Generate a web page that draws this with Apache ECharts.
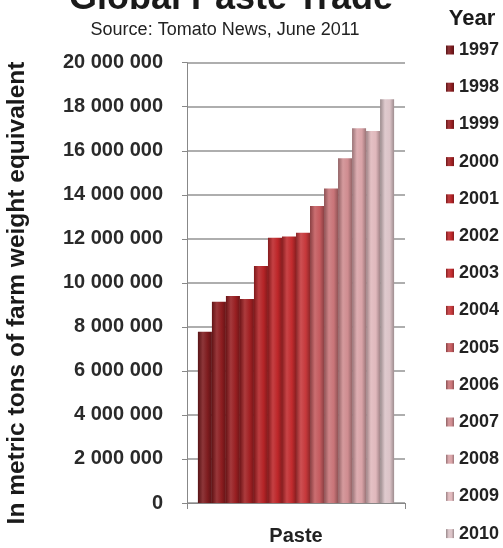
<!DOCTYPE html>
<html>
<head>
<meta charset="utf-8">
<title>Global Paste Trade</title>
<script src="https://cdn.jsdelivr.net/npm/echarts@6/dist/echarts.min.js"></script>
<style>
    html, body { margin: 0; padding: 0; background: #fff; }
    #chart { width: 503px; height: 548px; }
</style>
</head>
<body>
<div id="chart"></div>
<script>
// data (metric tons, farm weight equivalent)
const categories = ['Paste']
const years = ['1997', '1998', '1999', '2000', '2001', '2002', '2003',
    '2004', '2005', '2006', '2007', '2008', '2009', '2010']
const tradeVolume = [7780000, 9140000, 9400000, 9270000, 10770000, 12050000, 12100000,
    12280000, 13490000, 14290000, 15660000, 17020000, 16900000, 18340000]
const yMin = 0
const yMax = 20000000
const yStep = 2000000

const barColors = ['#7d1b1e', '#8c1c1f', '#981e21', '#a22023', '#b42326', '#bd2629', '#c22b2e',
    '#c6383b', '#c45a5e', '#c97478', '#cf8c90', '#d9a3a7', '#e0b8bc', '#dbc3c7']

const sans = '"Liberation Sans", Arial, sans-serif'

function shade(hex, f) {
    const n = parseInt(hex.slice(1), 16)
    const ch = [(n >> 16) & 255, (n >> 8) & 255, n & 255].map(c => {
        const v = f < 1 ? c * f : c + (255 - c) * (f - 1)
        return Math.max(0, Math.min(255, Math.round(v)))
    })
    return 'rgb(' + ch.join(',') + ')'
}

// cylinder-ish look: dark edges, lighter middle
function barFill(hex) {
    return new echarts.graphic.LinearGradient(0, 0, 1, 0, [
        { offset: 0, color: shade(hex, 0.7) },
        { offset: 0.35, color: shade(hex, 1.12) },
        { offset: 0.7, color: hex },
        { offset: 1, color: shade(hex, 0.72) }
    ])
}

const chart = echarts.init(document.getElementById('chart'))

chart.setOption({
    animation: false,
    graphic: [{
        type: 'text',
        x: 231, y: -1,
        style: { text: 'Global Paste Trade', textAlign: 'center', textVerticalAlign: 'middle',
            font: 'bold 36px ' + sans, fill: '#1a1a1a' }
    }, {
        type: 'text',
        x: 225, y: 30,
        style: { text: 'Source: Tomato News, June 2011', textAlign: 'center', textVerticalAlign: 'middle',
            font: '18px ' + sans, fill: '#222' }
    }, {
        type: 'text',
        x: 472, y: 19,
        style: { text: 'Year', textAlign: 'center', textVerticalAlign: 'middle',
            font: 'bold 22px ' + sans, fill: '#1a1a1a' }
    }, {
        type: 'text',
        x: 17, y: 293,
        rotation: Math.PI / 2,
        style: { text: 'In metric tons of farm weight equivalent', textAlign: 'center', textVerticalAlign: 'middle',
            font: 'bold 24.5px ' + sans, fill: '#1a1a1a' }
    }],
    legend: {
        orient: 'vertical',
        left: 446,
        top: 41,
        padding: 0,
        itemWidth: 8,
        itemHeight: 9,
        itemGap: 19.2,
        icon: 'rect',
        data: years,
        textStyle: { fontFamily: sans, fontWeight: 'bold', fontSize: 18, lineHeight: 18, color: '#222' }
    },
    grid: {
        left: 187,
        right: 98,
        top: 62.7,
        bottom: 45
    },
    xAxis: {
        type: 'category',
        data: categories,
        axisLine: { lineStyle: { color: '#888', width: 1 } },
        axisTick: { show: true, length: 6, lineStyle: { color: '#888' } },
        axisLabel: { margin: 23, fontFamily: sans, fontWeight: 'bold', fontSize: 20, color: '#222' }
    },
    yAxis: {
        type: 'value',
        min: yMin,
        max: yMax,
        interval: yStep,
        axisLine: { show: true, lineStyle: { color: '#888', width: 1 } },
        axisTick: { show: true, length: 5, lineStyle: { color: '#888' } },
        splitLine: { lineStyle: { color: '#939393', width: 1.5 } },
        axisLabel: {
            margin: 24,
            fontFamily: sans,
            fontWeight: 'bold',
            fontSize: 20,
            color: '#2a2a2a',
            formatter: v => String(v).replace(/\B(?=(\d{3})+(?!\d))/g, ' ')
        }
    },
    series: years.map((y, i) => ({
        name: y,
        type: 'bar',
        barGap: '0%',
        barCategoryGap: '10%',
        color: barColors[i],
        itemStyle: { color: barFill(barColors[i]) },
        data: [tradeVolume[i]]
    }))
})
</script>
</body>
</html>
